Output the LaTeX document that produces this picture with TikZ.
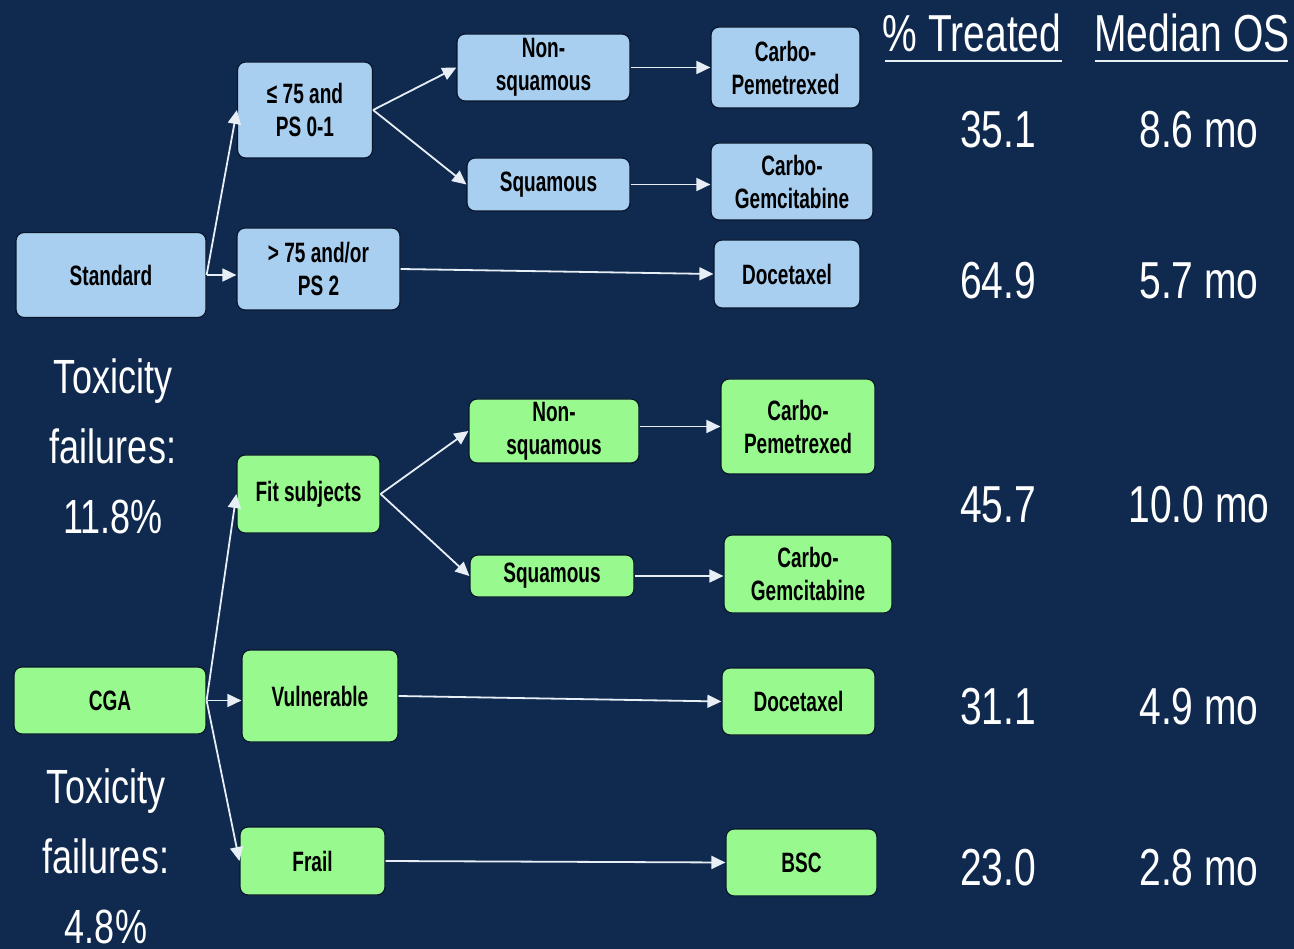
\documentclass[tikz,border=0pt]{standalone}
\usepackage{fontspec}
\setmainfont{Liberation Sans}
\newfontfamily\boxfont{Liberation Sans}[FakeStretch=0.68]
\newfontfamily\wfont{Liberation Sans}[FakeStretch=0.75]
\usetikzlibrary{arrows.meta}
\definecolor{bg}{RGB}{16,42,79}
\definecolor{lblue}{RGB}{168,206,240}
\definecolor{lgreen}{RGB}{152,250,142}
\definecolor{edge}{RGB}{8,22,44}
\definecolor{lineclr}{RGB}{232,238,246}
\begin{document}
\begin{tikzpicture}[x=1pt,y=-1pt,
  box/.style={rounded corners=8pt, draw=edge, line width=1.2pt, inner sep=0pt,
    align=center, text=black, font=\boxfont\bfseries\fontsize{28}{33}\selectfont},
  bbox/.style={box, fill=lblue},
  gbox/.style={box, fill=lgreen},
  sz/.style 2 args={minimum width=#1, minimum height=#2},
  arr/.style={draw=lineclr, line width=1.8pt, -{Triangle[length=14pt,width=13pt]}},
  hdr/.style={text=white, inner sep=0pt, font=\wfont\fontsize{52}{60}\selectfont},
  num/.style={text=white, inner sep=0pt, anchor=base, font=\wfont\fontsize{52}{60}\selectfont},
  tox/.style={text=white, inner sep=0pt, align=center, font=\wfont\fontsize{48}{70}\selectfont},
  uline/.style={draw=lineclr, line width=2.5pt},
]
\fill[bg] (0,0) rectangle (1294,949);
\useasboundingbox (0,0) rectangle (1294,949);

% --- Standard branch ---
\node[bbox, sz={190}{85}] (std)  at (111,275)   {Standard};
\node[bbox, sz={135}{96}] (le75) at (305,110)   {≤ 75 and\\PS 0-1};
\node[bbox, sz={163}{82}] (gt75) at (318.5,269) {> 75 and/or\\PS 2};
\node[bbox, sz={173}{67}] (ns1)  at (543.5,67.5) {Non-\\squamous};
\node[bbox, sz={163}{53}] (sq1)  at (548.5,184.5) {Squamous};
\node[bbox, sz={149}{81}] (cp1)  at (785.5,67.5) {Carbo-\\Pemetrexed};
\node[bbox, sz={162}{77}] (cg1)  at (792,181.5) {Carbo-\\Gemcitabine};
\node[bbox, sz={146}{68}] (doc1) at (787,274)   {Docetaxel};

% --- CGA branch ---
\node[gbox, sz={192}{67}] (cga)   at (110,700.5) {CGA};
\node[gbox, sz={143}{78}] (fit)   at (308.5,494) {Fit subjects};
\node[gbox, sz={156}{92}] (vul)   at (320,696)   {Vulnerable};
\node[gbox, sz={145}{68}] (frail) at (312.5,861) {Frail};
\node[gbox, sz={170}{64}] (ns2)   at (554,431)   {Non-\\squamous};
\node[gbox, sz={164}{42}] (sq2)   at (552,576)   {Squamous};
\node[gbox, sz={154}{95}] (cp2)   at (798,426.5) {Carbo-\\Pemetrexed};
\node[gbox, sz={168}{78}] (cg2)   at (808,574)   {Carbo-\\Gemcitabine};
\node[gbox, sz={153}{67}] (doc2)  at (798.5,701.5) {Docetaxel};
\node[gbox, sz={151}{67}] (bsc)   at (801.5,862.5) {BSC};

% --- connectors ---
\draw[arr] (std.east) -- (le75.west);
\draw[arr] (std.east) -- (std.east -| gt75.west);
\draw[arr] (le75.east) -- (ns1.west);
\draw[arr] (le75.east) -- (sq1.west);
\draw[arr] (ns1.east) -- (cp1.west);
\draw[arr] (sq1.east) -- (sq1.east -| cg1.west);
\draw[arr] (gt75.east) -- (doc1.west);

\draw[arr] (cga.east) -- (fit.west);
\draw[arr] (cga.east) -- (cga.east -| vul.west);
\draw[arr] (cga.east) -- (frail.west);
\draw[arr] (fit.east) -- (ns2.west);
\draw[arr] (fit.east) -- (sq2.west);
\draw[arr] (cp2.west -| ns2.east) -- (cp2.west);
\draw[arr] (sq2.east) -- (sq2.east -| cg2.west);
\draw[arr] (vul.east) -- (doc2.west);
\draw[arr] (frail.east) -- (bsc.west);

% --- headers ---
\node[hdr, anchor=base] (h1) at (972,52)  {\% Treated};
\node[hdr, anchor=base] (h2) at (1192,52) {Median OS};
\draw[uline] (885,61) -- (1062,61);
\draw[uline] (1095,61) -- (1288,61);

% --- numbers ---
\node[num] (t1) at (998,148) {35.1};
\node[num] (m1) at (1199,148) {8.6 mo};
\node[num] (t2) at (998,299) {64.9};
\node[num] (m2) at (1199,299) {5.7 mo};
\node[num] (t3) at (998,522) {45.7};
\node[num] (m3) at (1199,522) {10.0 mo};
\node[num] (t4) at (998,724) {31.1};
\node[num] (m4) at (1199,724) {4.9 mo};
\node[num] (t5) at (998,885) {23.0};
\node[num] (m5) at (1199,885) {2.8 mo};

% --- toxicity notes ---
\node[tox] (tox1) at (113,446) {Toxicity\\failures:\\11.8\%};
\node[tox] (tox2) at (106,856) {Toxicity\\failures:\\4.8\%};
\end{tikzpicture}
\end{document}
